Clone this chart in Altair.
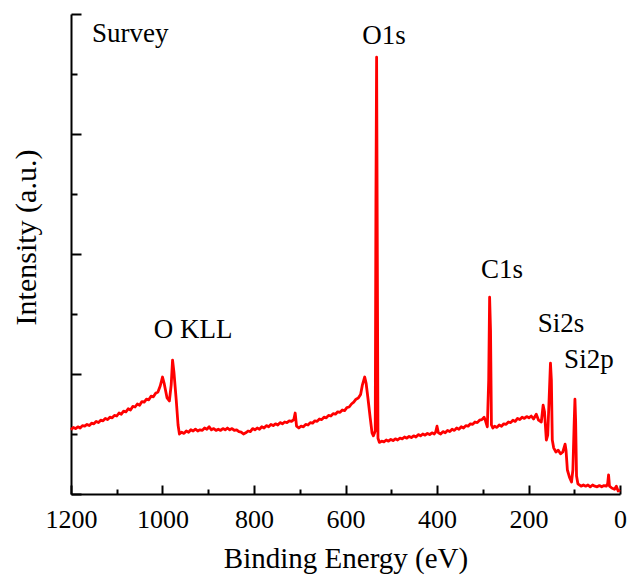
import altair as alt
import pandas as pd

energy = [1200, 1195, 1190, 1185, 1180, 1175, 1170, 1165, 1160, 1155,
          1150, 1145, 1140, 1135, 1130, 1125, 1120, 1115, 1110, 1105,
          1100, 1095, 1090, 1085, 1080, 1075, 1070, 1065, 1060, 1055,
          1050, 1045, 1040, 1035, 1030, 1025, 1020, 1015, 1010, 1005,
          1000, 996, 990, 985, 981, 978, 975, 970, 966, 963,
          958, 953, 948, 943, 938, 933, 928, 923, 918, 913,
          908, 903, 898, 893, 888, 883, 878, 873, 868, 863,
          858, 853, 848, 843, 838, 833, 828, 823, 818, 813,
          808, 803, 798, 793, 788, 783, 778, 773, 768, 763,
          758, 753, 748, 743, 738, 733, 728, 723, 718, 713,
          710, 707, 702, 697, 692, 687, 682, 677, 672, 667,
          662, 657, 652, 647, 642, 637, 632, 627, 622, 617,
          612, 607, 602, 597, 592, 587, 582, 577, 572, 567,
          563, 558, 555, 551, 546, 542, 539, 536, 535, 533.5,
          532, 530.5, 529, 526, 521, 516, 511, 506, 501, 496,
          491, 486, 481, 476, 471, 466, 461, 456, 451, 446,
          441, 436, 431, 426, 421, 416, 411, 406, 403, 400,
          397, 392, 387, 382, 377, 372, 367, 362, 357, 352,
          347, 342, 337, 332, 327, 322, 317, 312, 307, 302,
          297, 294, 290, 287, 285, 283, 281, 278, 274, 269,
          264, 259, 254, 249, 244, 239, 234, 229, 224, 219,
          214, 209, 204, 199, 194, 189, 183, 178, 172, 168,
          165, 161, 158, 155, 152, 150, 148, 145, 140, 135,
          130, 125, 120, 118, 115, 110, 106, 103, 100, 98.5,
          97, 95, 92, 85, 80, 75, 70, 65, 60, 55,
          50, 45, 40, 35, 30, 27, 25, 23, 18, 12,
          8, 4, 0]
intensity = [1.07, 1.11, 1.09, 1.12, 1.10, 1.14, 1.13, 1.16, 1.14, 1.18,
             1.17, 1.21, 1.19, 1.23, 1.22, 1.26, 1.24, 1.28, 1.27, 1.31,
             1.30, 1.35, 1.33, 1.38, 1.37, 1.42, 1.40, 1.46, 1.45, 1.50,
             1.48, 1.54, 1.53, 1.58, 1.57, 1.63, 1.62, 1.68, 1.70, 1.80,
             1.95, 1.83, 1.60, 1.55, 1.82, 2.23, 2.03, 1.57, 1.15, 1.00,
             1.03, 1.01, 1.05, 1.03, 1.07, 1.05, 1.08, 1.05, 1.07, 1.06,
             1.10, 1.08, 1.12, 1.07, 1.09, 1.06, 1.08, 1.06, 1.09, 1.07,
             1.10, 1.07, 1.09, 1.06, 1.07, 1.04, 1.03, 1.00, 1.02, 1.05,
             1.04, 1.09, 1.07, 1.10, 1.08, 1.12, 1.10, 1.14, 1.12, 1.16,
             1.14, 1.17, 1.15, 1.19, 1.17, 1.20, 1.19, 1.22, 1.21, 1.24,
             1.35, 1.13, 1.10, 1.13, 1.12, 1.16, 1.15, 1.19, 1.18, 1.22,
             1.21, 1.25, 1.24, 1.28, 1.27, 1.31, 1.30, 1.34, 1.33, 1.37,
             1.36, 1.40, 1.39, 1.44, 1.45, 1.50, 1.53, 1.58, 1.60, 1.66,
             1.82, 1.95, 1.85, 1.60, 1.27, 1.02, 0.97, 1.03, 1.05, 4.90,
             7.28, 4.07, 0.93, 0.86, 0.88, 0.87, 0.90, 0.88, 0.91, 0.89,
             0.92, 0.90, 0.93, 0.92, 0.95, 0.93, 0.96, 0.94, 0.97, 0.95,
             0.99, 0.97, 1.00, 0.98, 1.01, 0.99, 1.02, 1.00, 1.03, 1.13,
             1.02, 1.00, 1.04, 1.02, 1.06, 1.04, 1.08, 1.06, 1.10, 1.08,
             1.12, 1.10, 1.14, 1.13, 1.17, 1.16, 1.20, 1.19, 1.23, 1.24,
             1.28, 1.22, 1.12, 1.90, 3.28, 2.73, 1.15, 1.10, 1.13, 1.11,
             1.15, 1.13, 1.17, 1.16, 1.20, 1.19, 1.23, 1.21, 1.26, 1.24,
             1.28, 1.26, 1.29, 1.27, 1.30, 1.25, 1.33, 1.23, 1.20, 1.48,
             1.37, 0.90, 0.98, 1.57, 2.18, 1.90, 0.90, 0.77, 0.70, 0.73,
             0.67, 0.70, 0.83, 0.73, 0.40, 0.27, 0.20, 0.40, 1.23, 1.58,
             1.23, 0.30, 0.17, 0.13, 0.15, 0.13, 0.15, 0.12, 0.15, 0.13,
             0.12, 0.14, 0.12, 0.14, 0.13, 0.17, 0.32, 0.13, 0.10, 0.08,
             0.13, 0.05, 0.07]

label_text = ["Survey", "O1s", "O KLL", "C1s", "Si2s", "Si2p"]
label_x = [1154, 516, 933, 258, 129, 68]
label_y = [7.53, 7.50, 2.60, 3.60, 2.70, 2.10]
label_align = ["left", "center", "center", "center", "center", "center"]

x_major = [1200, 1000, 800, 600, 400, 200, 0]
x_minor = [1100, 900, 700, 500, 300, 100]
y_major = [0, 2, 4, 6, 8]
y_minor = [1, 3, 5, 7]

df = pd.DataFrame({"E": energy, "I": intensity})
lab = pd.DataFrame({"t": label_text, "x": label_x, "y": label_y, "a": label_align})

FONT = "Liberation Serif"
W, H = 549, 480

xscale = alt.Scale(domain=[0, 1200], reverse=True, nice=False, zero=False)
yscale = alt.Scale(domain=[0, 8], nice=False, zero=False)

base = alt.Chart(df)

main = base.mark_line(color="#ff0000", strokeWidth=2.8, strokeJoin="round").encode(
    x=alt.X("E:Q", scale=xscale,
            axis=alt.Axis(orient="bottom", values=x_major, ticks=False, grid=False,
                          domainColor="black", domainWidth=2, labelFont=FONT,
                          labelFontSize=26, labelColor="black", labelPadding=12,
                          title="Binding Energy (eV)", titleFont=FONT, titleFontSize=29,
                          titleFontWeight="normal", titleColor="black", titlePadding=12,
                          format="d", labelFlush=False)),
    y=alt.Y("I:Q", scale=yscale,
            axis=alt.Axis(orient="left", values=y_major, ticks=False, labels=False, grid=False,
                          domainColor="black", domainWidth=2,
                          title="Intensity (a.u.)", titleFont=FONT, titleFontSize=30,
                          titleFontWeight="normal", titleColor="black", titlePadding=30,
                          titleY=223)),
)

major = base.mark_line(opacity=0).encode(
    x=alt.X("E:Q", scale=xscale,
            axis=alt.Axis(orient="top", offset=-H, values=x_major, labels=False, domain=False,
                          grid=False, tickSize=9, tickWidth=2, tickColor="black", title=None)),
    y=alt.Y("I:Q", scale=yscale,
            axis=alt.Axis(orient="right", offset=-W, values=y_major, labels=False, domain=False,
                          grid=False, tickSize=10, tickWidth=2, tickColor="black", title=None)),
)

minor = base.mark_line(opacity=0).encode(
    x=alt.X("E:Q", scale=xscale,
            axis=alt.Axis(orient="top", offset=-H, values=x_minor, labels=False, domain=False,
                          grid=False, tickSize=5, tickWidth=2, tickColor="black", title=None)),
    y=alt.Y("I:Q", scale=yscale,
            axis=alt.Axis(orient="right", offset=-W, values=y_minor, labels=False, domain=False,
                          grid=False, tickSize=6, tickWidth=2, tickColor="black", title=None)),
)

texts_left = alt.Chart(lab[lab["a"] == "left"]).mark_text(font=FONT, fontSize=27, color="black",
                                                          baseline="alphabetic", align="left").encode(
    x=alt.X("x:Q", scale=xscale, axis=None),
    y=alt.Y("y:Q", scale=yscale, axis=None),
    text="t:N",
)
texts_center = alt.Chart(lab[lab["a"] == "center"]).mark_text(font=FONT, fontSize=27, color="black",
                                                              baseline="alphabetic", align="center").encode(
    x=alt.X("x:Q", scale=xscale, axis=None),
    y=alt.Y("y:Q", scale=yscale, axis=None),
    text="t:N",
)

chart = alt.layer(main, major, minor, texts_left, texts_center).resolve_axis(
    x="independent", y="independent"
).properties(
    width=W, height=H,
    autosize=alt.AutoSizeParams(type="none"),
    padding={"left": 71, "top": 14, "right": 8, "bottom": 84},
    background="white",
).configure_view(stroke=None)

chart.save("out.html", embed_options={"renderer": "svg", "actions": False})
